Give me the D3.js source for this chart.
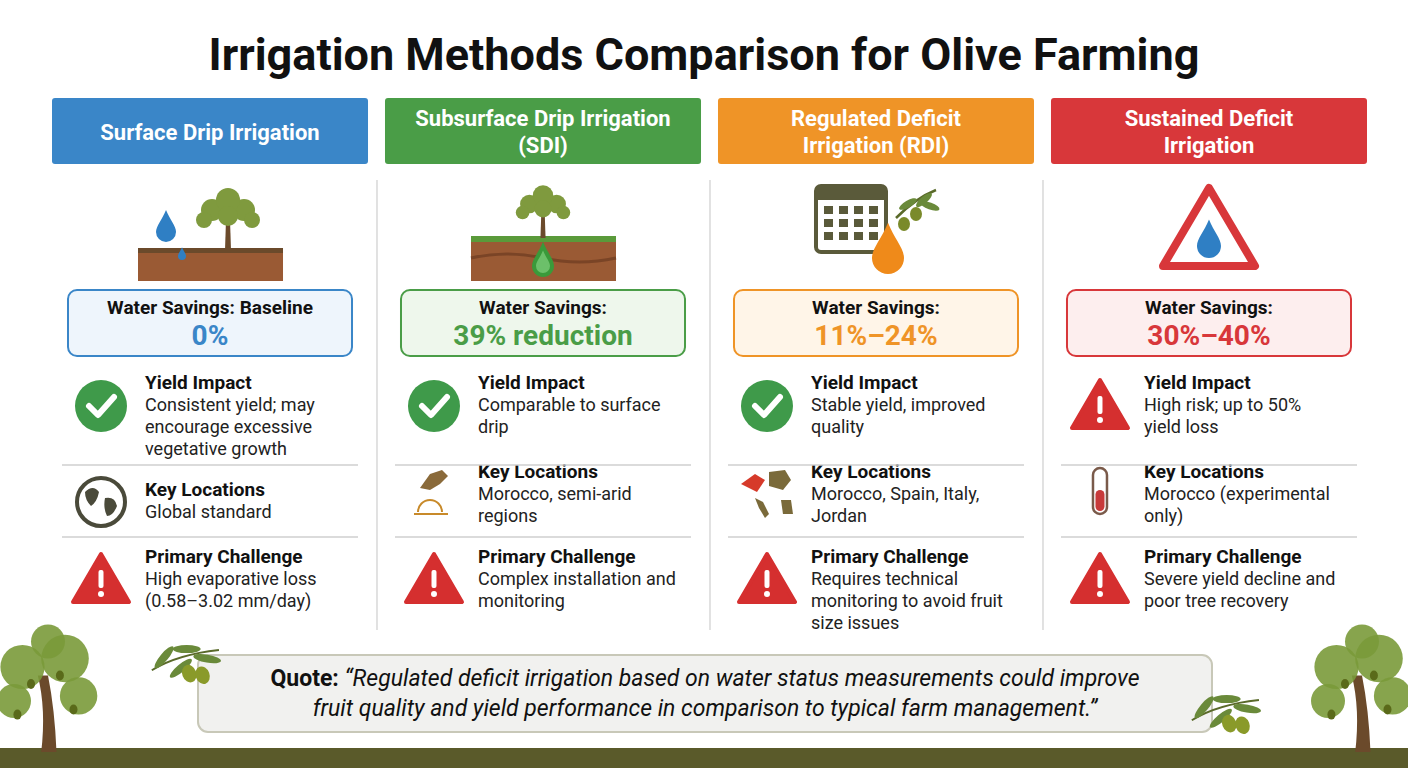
<!DOCTYPE html>
<html>
<head>
<meta charset="utf-8">
<title>Irrigation Methods Comparison</title>
<style>
  body { margin: 0; background: #fff; }
  text { font-family: Roboto, "Noto Sans", sans-serif; }
</style>
</head>
<body>
<div id="graph"></div>
<script src="https://cdn.jsdelivr.net/npm/d3@7"></script>
<script>
// data
const methods = ["Surface Drip Irrigation", "Subsurface Drip Irrigation|(SDI)", "Regulated Deficit|Irrigation (RDI)", "Sustained Deficit|Irrigation"];
const headColors = ["#3a86c8", "#4a9d47", "#ef9427", "#d8373a"];
const boxFills = ["#eef5fc", "#eef7ec", "#fff5e8", "#fdeeee"];
const savingsLabel = ["Water Savings: Baseline", "Water Savings:", "Water Savings:", "Water Savings:"];
const savingsValue = ["0%", "39% reduction", "11%–24%", "30%–40%"];
const yieldText = [
  ["Consistent yield; may", "encourage excessive", "vegetative growth"],
  ["Comparable to surface", "drip"],
  ["Stable yield, improved", "quality"],
  ["High risk; up to 50%", "yield loss"]
];
const yieldIcon = ["check", "check", "check", "warn"];
const locationText = [
  ["Global standard"],
  ["Morocco, semi-arid", "regions"],
  ["Morocco, Spain, Italy,", "Jordan"],
  ["Morocco (experimental", "only)"]
];
const challengeText = [
  ["High evaporative loss", "(0.58–3.02 mm/day)"],
  ["Complex installation and", "monitoring"],
  ["Requires technical", "monitoring to avoid fruit", "size issues"],
  ["Severe yield decline and", "poor tree recovery"]
];
const quoteLines = ["\u201CRegulated deficit irrigation based on water status measurements could improve", "fruit quality and yield performance in comparison to typical farm management.\u201D"];

const W = 1408, H = 768;
const svg = d3.select("#graph").append("svg").attr("width", W).attr("height", H);

const col = d3.scaleBand().domain(d3.range(4)).range([52, 1367]).paddingInner(0.051).paddingOuter(0);
const bw = col.bandwidth();

svg.append("text").attr("x", W / 2).attr("y", 70).attr("text-anchor", "middle")
  .attr("font-size", 45).attr("font-weight", 700).attr("fill", "#111")
  .text("Irrigation Methods Comparison for Olive Farming");

// separators
[1, 2, 3].forEach(i => {
  svg.append("line").attr("x1", col(i) - 8).attr("x2", col(i) - 8).attr("y1", 180).attr("y2", 630)
    .attr("stroke", "#d8d8d8").attr("stroke-width", 1.5);
});

function tree(g, cx, base, s) {
  g.append("path").attr("d", `M${cx - 3 * s},${base} L${cx - 2 * s},${base - 30 * s} L${cx + 2 * s},${base - 30 * s} L${cx + 3 * s},${base} Z`).attr("fill", "#6b4a2b");
  [[-16, -40, 11], [16, -40, 11], [0, -50, 12], [-24, -30, 8], [24, -30, 8], [0, -34, 10]].forEach(p =>
    g.append("circle").attr("cx", cx + p[0] * s).attr("cy", base + p[1] * s).attr("r", p[2] * s).attr("fill", "#7f9a3e"));
}
function drop(g, cx, cy, r, fill) {
  g.append("path").attr("d", `M${cx},${cy - 2.2 * r} C${cx + r * 0.4},${cy - r * 1.2} ${cx + r},${cy - r * 0.6} ${cx + r},${cy} A${r},${r} 0 0 1 ${cx - r},${cy} C${cx - r},${cy - r * 0.6} ${cx - r * 0.4},${cy - r * 1.2} ${cx},${cy - 2.2 * r} Z`).attr("fill", fill);
}
function checkIcon(g, cx, cy) {
  g.append("circle").attr("cx", cx).attr("cy", cy).attr("r", 26).attr("fill", "#3f9a4a");
  g.append("path").attr("d", `M${cx - 12},${cy} L${cx - 3},${cy + 9} L${cx + 13},${cy - 9}`)
    .attr("fill", "none").attr("stroke", "#fff").attr("stroke-width", 6).attr("stroke-linecap", "round").attr("stroke-linejoin", "round");
}
function warnIcon(g, cx, cy) {
  g.append("path").attr("d", `M${cx},${cy - 26} L${cx + 28},${cy + 22} L${cx - 28},${cy + 22} Z`)
    .attr("fill", "#d52f2f").attr("stroke", "#d52f2f").attr("stroke-width", 4).attr("stroke-linejoin", "round");
  g.append("rect").attr("x", cx - 2.5).attr("y", cy - 10).attr("width", 5).attr("height", 18).attr("rx", 2).attr("fill", "#fff");
  g.append("circle").attr("cx", cx).attr("cy", cy + 14).attr("r", 3).attr("fill", "#fff");
}
function locIcon(g, i, cx, cy) {
  if (i === 0) {
    g.append("circle").attr("cx", cx).attr("cy", cy).attr("r", 24).attr("fill", "#fff").attr("stroke", "#4a4a3a").attr("stroke-width", 4);
    g.append("path").attr("d", `M${cx - 16},${cy - 10} q8,-8 14,0 q-2,10 -8,14 q-6,-6 -6,-14 Z M${cx + 4},${cy - 4} q10,-2 12,8 q-4,10 -10,10 q-4,-8 -2,-18 Z`).attr("fill", "#4a4a3a");
  } else if (i === 1) {
    g.append("path").attr("d", `M${cx - 14},${cy - 4} l10,-14 l12,-4 l6,6 l-8,8 l-10,6 Z`).attr("fill", "#8a6a3a");
    g.append("path").attr("d", `M${cx - 16},${cy + 20} a12,12 0 0 1 24,0`).attr("fill", "none").attr("stroke", "#c88a2a").attr("stroke-width", 2);
    g.append("line").attr("x1", cx - 20).attr("x2", cx + 14).attr("y1", cy + 22).attr("y2", cy + 22).attr("stroke", "#c88a2a").attr("stroke-width", 2);
  } else if (i === 2) {
    g.append("path").attr("d", `M${cx - 26},${cy - 8} l14,-10 l10,6 l-8,12 Z`).attr("fill", "#d63a2a");
    g.append("path").attr("d", `M${cx + 2},${cy - 20} l16,-2 l6,10 l-8,10 l-14,-4 Z`).attr("fill", "#7a6a3a");
    g.append("path").attr("d", `M${cx - 12},${cy + 6} l8,4 l6,12 l-4,4 l-6,-10 Z`).attr("fill", "#7a6a3a");
    g.append("path").attr("d", `M${cx + 14},${cy + 8} l10,0 l2,14 l-10,0 Z`).attr("fill", "#7a6a3a");
  } else {
    g.append("rect").attr("x", cx - 7).attr("y", cy - 24).attr("width", 14).attr("height", 46).attr("rx", 7).attr("fill", "#fff").attr("stroke", "#7a5a4a").attr("stroke-width", 2.5);
    g.append("rect").attr("x", cx - 4.5).attr("y", cy - 2).attr("width", 9).attr("height", 21).attr("rx", 4.5).attr("fill", "#c83a3a");
  }
}

d3.range(4).forEach(i => {
  const x0 = col(i), cx = x0 + bw / 2;
  const g = svg.append("g");
  g.append("rect").attr("x", x0).attr("y", 98).attr("width", bw).attr("height", 66).attr("rx", 3).attr("fill", headColors[i]);
  const hl = methods[i].split("|");
  hl.forEach((t, k) => g.append("text").attr("x", cx).attr("y", (hl.length === 1 ? 140 : 126) + k * 27)
    .attr("text-anchor", "middle").attr("font-size", 22).attr("font-weight", 700).attr("fill", "#fff").text(t));

  // header illustration
  if (i === 0) {
    g.append("rect").attr("x", cx - 72).attr("y", 252).attr("width", 145).attr("height", 29).attr("fill", "#9a5a34");
    g.append("rect").attr("x", cx - 72).attr("y", 248).attr("width", 145).attr("height", 5).attr("fill", "#6b4a2b");
    tree(g, cx + 18, 250, 1);
    drop(g, cx - 44, 232, 10, "#2f7fc4");
    drop(g, cx - 28, 256, 4, "#2f7fc4");
  } else if (i === 1) {
    g.append("rect").attr("x", cx - 72).attr("y", 238).attr("width", 145).attr("height", 43).attr("fill", "#9a5a34");
    g.append("rect").attr("x", cx - 72).attr("y", 236).attr("width", 145).attr("height", 6).attr("fill", "#5a9a3a");
    g.append("path").attr("d", `M${cx - 72},${258} q36,-8 72,0 t73,0`).attr("fill", "none").attr("stroke", "#7a4426").attr("stroke-width", 3);
    tree(g, cx, 238, 0.85);
    drop(g, cx, 266, 11, "#3a9a3a");
    drop(g, cx, 266, 7, "#6cc06a");
  } else if (i === 2) {
    g.append("rect").attr("x", cx - 60).attr("y", 186).attr("width", 70).attr("height", 66).attr("rx", 5).attr("fill", "#fff").attr("stroke", "#5a5a3a").attr("stroke-width", 4);
    g.append("rect").attr("x", cx - 60).attr("y", 186).attr("width", 70).attr("height", 14).attr("fill", "#5a5a3a");
    d3.range(3).forEach(r => d3.range(4).forEach(c => g.append("rect").attr("x", cx - 52 + c * 15).attr("y", 206 + r * 13).attr("width", 9).attr("height", 8).attr("fill", "#5a5a3a")));
    g.append("path").attr("d", `M${cx + 20},${218} q20,-20 40,-28`).attr("fill", "none").attr("stroke", "#5a6a2a").attr("stroke-width", 2.5);
    [[28, 224], [40, 214]].forEach(p => g.append("ellipse").attr("cx", cx + p[0]).attr("cy", p[1]).attr("rx", 6).attr("ry", 7).attr("fill", "#7a8a2a"));
    [[32, 204, -30], [48, 200, -40], [54, 206, 20]].forEach(p => g.append("ellipse").attr("cx", cx + p[0]).attr("cy", p[1]).attr("rx", 10).attr("ry", 3.5).attr("transform", `rotate(${p[2]},${cx + p[0]},${p[1]})`).attr("fill", "#6a8a3a"));
    drop(g, cx + 12, 258, 16, "#ef8a1a");
  } else {
    g.append("path").attr("d", `M${cx},${188} L${cx + 46},${266} L${cx - 46},${266} Z`).attr("fill", "#fff").attr("stroke", "#d8373a").attr("stroke-width", 8).attr("stroke-linejoin", "round");
    drop(g, cx, 246, 12, "#2f7fc4");
  }

  // water savings box
  g.append("rect").attr("x", x0 + 16).attr("y", 290).attr("width", bw - 32).attr("height", 66).attr("rx", 9)
    .attr("fill", boxFills[i]).attr("stroke", headColors[i]).attr("stroke-width", 2);
  g.append("text").attr("x", cx).attr("y", 314).attr("text-anchor", "middle").attr("font-size", 19).attr("font-weight", 700).attr("fill", "#111").text(savingsLabel[i]);
  g.append("text").attr("x", cx).attr("y", 345).attr("text-anchor", "middle").attr("font-size", 28).attr("font-weight", 700).attr("fill", headColors[i]).text(savingsValue[i]);

  // rows
  const tx = x0 + 93, ix = x0 + 49;
  const rows = [
    { title: "Yield Impact", lines: yieldText[i], y: 389, icon: yieldIcon[i] },
    { title: "Key Locations", lines: locationText[i], y: i === 0 ? 496 : 478, icon: "loc" },
    { title: "Primary Challenge", lines: challengeText[i], y: 563, icon: "warn" }
  ];
  rows.forEach((r, k) => {
    g.append("text").attr("x", tx).attr("y", r.y).attr("font-size", 19).attr("font-weight", 700).attr("fill", "#111").text(r.title);
    r.lines.forEach((t, j) => g.append("text").attr("x", tx).attr("y", r.y + 22 * (j + 1)).attr("font-size", 18).attr("fill", "#222").text(t));
    const iy = k === 0 ? 406 : k === 1 ? (i === 0 ? 502 : 492) : 580;
    if (r.icon === "check") checkIcon(g, ix, iy);
    else if (r.icon === "warn") warnIcon(g, ix, iy);
    else locIcon(g, i, ix, iy);
  });
  [465, 537].forEach(y => g.append("line").attr("x1", x0 + 10).attr("x2", x0 + bw - 10).attr("y1", y).attr("y2", y).attr("stroke", "#cfcfcf").attr("stroke-width", 1.5));
});

// ground and trees
svg.append("rect").attr("x", 0).attr("y", 748).attr("width", W).attr("height", 20).attr("fill", "#5a5a2a");
function bigTree(cx, base, s) {
  const g = svg.append("g");
  g.append("path").attr("d", `M${cx - 8 * s},${base} Q${cx - 2 * s},${base - 50 * s} ${cx - 12 * s},${base - 90 * s} L${cx},${base - 90 * s} Q${cx + 8 * s},${base - 50 * s} ${cx + 10 * s},${base} Z`).attr("fill", "#6b4a2b");
  [[-30, -100, 26], [20, -110, 28], [-40, -60, 20], [36, -66, 22], [0, -130, 20]].forEach(p =>
    g.append("circle").attr("cx", cx + p[0] * s).attr("cy", base + p[1] * s).attr("r", p[2] * s).attr("fill", "#7a9a3a").attr("opacity", 0.9));
  [[-20, -80], [14, -90], [30, -50], [-36, -44]].forEach(p =>
    g.append("ellipse").attr("cx", cx + p[0] * s).attr("cy", base + p[1] * s).attr("rx", 4).attr("ry", 5).attr("fill", "#5a6a1a"));
}
bigTree(48, 752, 0.85);
bigTree(1362, 752, 0.85);

// quote
svg.append("rect").attr("x", 198).attr("y", 655).attr("width", 1014).attr("height", 77).attr("rx", 10)
  .attr("fill", "#f1f1ef").attr("stroke", "#c8c8b8").attr("stroke-width", 2);
const q1 = svg.append("text").attr("x", 705).attr("y", 686).attr("text-anchor", "middle").attr("font-size", 23).attr("fill", "#111");
q1.append("tspan").attr("font-weight", 700).text("Quote: ");
q1.append("tspan").attr("font-style", "italic").text(quoteLines[0]);
svg.append("text").attr("x", 705).attr("y", 716).attr("text-anchor", "middle").attr("font-size", 23).attr("font-style", "italic").attr("fill", "#111").text(quoteLines[1]);
// olive sprigs
[[180, 660, -20], [1220, 710, -20]].forEach(p => {
  const g = svg.append("g").attr("transform", `translate(${p[0]},${p[1]}) rotate(${p[2]})`);
  g.append("path").attr("d", "M-30,0 Q0,-6 40,4").attr("fill", "none").attr("stroke", "#5a6a2a").attr("stroke-width", 2);
  [[-14, -8, -30], [10, -8, 20], [26, 8, 30], [-2, 8, -20]].forEach(l => g.append("ellipse").attr("cx", l[0]).attr("cy", l[1]).attr("rx", 14).attr("ry", 4).attr("transform", `rotate(${l[2]},${l[0]},${l[1]})`).attr("fill", "#6a8a3a"));
  [[4, 16], [16, 22]].forEach(o => g.append("ellipse").attr("cx", o[0]).attr("cy", o[1]).attr("rx", 7).attr("ry", 9).attr("fill", "#8a9a2a"));
});
</script>
</body>
</html>
